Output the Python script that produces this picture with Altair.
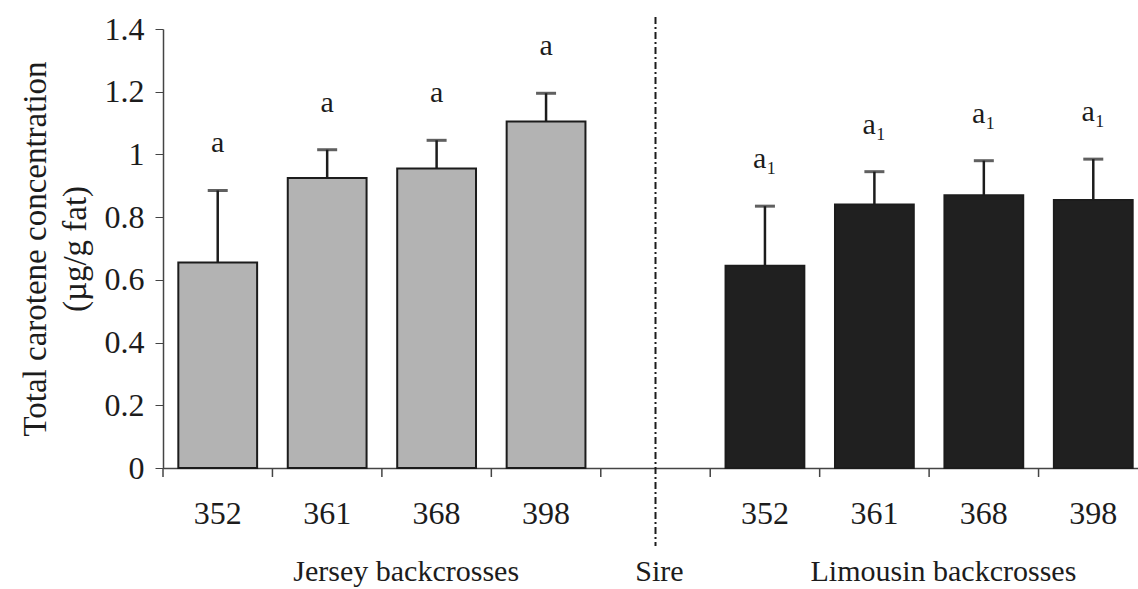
import altair as alt
import pandas as pd

# Sire codes and mean total carotene (µg/g fat) with standard errors
sires = ["352", "361", "368", "398"]
jersey_mean = [0.655, 0.925, 0.955, 1.105]
jersey_se = [0.230, 0.090, 0.090, 0.090]
limousin_mean = [0.645, 0.840, 0.870, 0.855]
limousin_se = [0.190, 0.105, 0.110, 0.130]
jersey_letters = ["a", "a", "a", "a"]
limousin_letters = ["a\u2081", "a\u2081", "a\u2081", "a\u2081"]

FONT = "Liberation Serif"
INK = "#1c1c1c"
W, H = 975, 439
XR = 985
PAD = 0.28

rows = []
for s, m, e, l in zip(sires, jersey_mean, jersey_se, jersey_letters):
    rows.append({"cat": "J-" + s, "breed": "Jersey", "mean": m, "top": m + e, "letter": l})
for s, m, e, l in zip(sires, limousin_mean, limousin_se, limousin_letters):
    rows.append({"cat": "L-" + s, "breed": "Limousin", "mean": m, "top": m + e, "letter": l})
df = pd.DataFrame(rows)

cats = ["J-" + s for s in sires] + ["gap"] + ["L-" + s for s in sires]
slots = pd.DataFrame({"cat": cats})
step = XR / len(cats)

xscale = alt.Scale(domain=cats, range=[0, XR], paddingInner=PAD, paddingOuter=PAD / 2)
x_axis = alt.Axis(
    ticks=False, domain=True, domainColor="#444", domainWidth=1.5,
    labelExpr="datum.value == 'gap' ? '' : slice(datum.value, 2)",
    labelFont=FONT, labelFontSize=32, labelColor=INK, labelPadding=30,
    labelAngle=0, title=None,
)


def xenc(band_pos=0.5):
    return alt.X("cat:N", scale=xscale, axis=x_axis, sort=cats, bandPosition=band_pos)


y = alt.Y(
    "mean:Q",
    scale=alt.Scale(domain=[0, 1.4], nice=False),
    axis=alt.Axis(
        values=[0, 0.2, 0.4, 0.6, 0.8, 1.0, 1.2, 1.4], format=".1~f",
        grid=False, tickSize=8, tickColor="#444", domainColor="#444", domainWidth=1.5,
        labelFont=FONT, labelFontSize=32, labelColor=INK, labelPadding=11,
        title=["Total carotene concentration", "(\u00b5g/g fat)"],
        titleFont=FONT, titleFontSize=33, titleFontWeight="normal", titleColor=INK,
        titleLineHeight=40, titleX=-128, titleY=H / 2, titleBaseline="middle",
        titleAngle=-90, titleAlign="center",
    ),
)

base = alt.Chart(df)

bars = base.mark_bar(stroke=INK, strokeWidth=2).encode(
    x=alt.X("cat:N", scale=xscale, axis=x_axis, sort=cats), y=y,
    color=alt.Color("breed:N", scale=alt.Scale(domain=["Jersey", "Limousin"], range=["#b3b3b3", "#202020"]), legend=None),
)
err = base.mark_rule(color=INK, strokeWidth=2.5).encode(x=xenc(), y="mean:Q", y2="top:Q")
caps = base.mark_tick(color=INK, thickness=3, size=20).encode(x=xenc(), y="top:Q")
letters = base.mark_text(font=FONT, fontSize=30, color=INK, baseline="alphabetic", dy=-38).encode(
    x=xenc(), y="top:Q", text="letter:N"
)

# slot boundary ticks below the x axis (half an inner gap before each band)
ticks = alt.Chart(slots).mark_rule(
    color="#444", strokeWidth=1.5, xOffset=-step * PAD / 2
).encode(
    x=xenc(0), y=alt.value(H), y2=alt.value(H + 9),
)

# dash-dot separator at the sire position
sep = alt.Chart(pd.DataFrame({"cat": ["gap"]})).mark_rule(
    color=INK, strokeWidth=2, strokeDash=[7, 3, 2, 3]
).encode(
    x=xenc(), y=alt.value(-12), y2=alt.value(H + 78),
)


def group_label(cat, text, band_pos, dx):
    return alt.Chart(pd.DataFrame({"cat": [cat], "t": [text]})).mark_text(
        font=FONT, fontSize=30, color=INK, baseline="middle", dx=dx
    ).encode(
        x=xenc(band_pos), y=alt.value(H + 104), text="t:N",
    )


groups = (
    group_label("J-368", "Jersey backcrosses", 0, 9)
    + group_label("gap", "Sire", 0.5, 4)
    + group_label("L-368", "Limousin backcrosses", 0, -1)
)

chart = (
    alt.layer(bars, err, caps, letters, ticks, sep, groups)
    .properties(
        width=W, height=H,
        autosize=alt.AutoSizeParams(type="none"),
        padding={"left": 163, "top": 29, "right": 0, "bottom": 121},
        background="white",
    )
    .configure_view(stroke=None)
)

chart.save("out.html", embed_options={"renderer": "svg", "actions": False})
